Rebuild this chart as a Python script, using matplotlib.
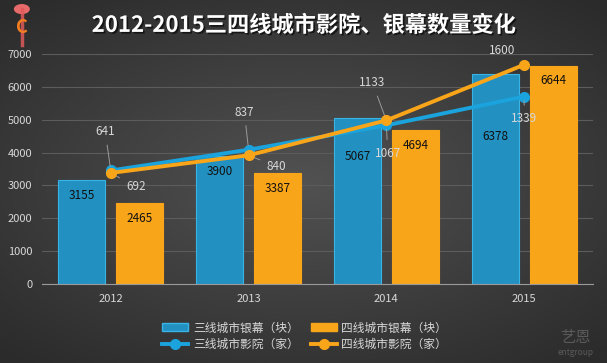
import numpy as np
import matplotlib
matplotlib.use("Agg")
from matplotlib import pyplot as plt
from matplotlib import patheffects as pe
from matplotlib.patches import Patch, Circle
from matplotlib.lines import Line2D

plt.rcParams['font.family'] = ['Noto Sans CJK SC', 'DejaVu Sans']

years = ['2012', '2013', '2014', '2015']
screens_t3 = [3155, 3900, 5067, 6378]   # 三线城市银幕（块）
screens_t4 = [2465, 3387, 4694, 6644]   # 四线城市银幕（块）
cinemas_t3 = [641, 837, 1067, 1339]     # 三线城市影院（家）
cinemas_t4 = [692, 840, 1133, 1600]     # 四线城市影院（家）

blue_bar = '#2290c0'
blue_line = '#1aa3dc'
orange = '#f9a51a'
txt = '#d8d8d8'

fig = plt.figure(figsize=(6.07, 3.63), dpi=100)

# background gradient
bg = fig.add_axes([0, 0, 1, 1])
yy, xx = np.mgrid[-1:1:200j, -1:1:300j]
r = np.sqrt((xx * 0.9) ** 2 + (yy * 1.0) ** 2)
shade = 0.32 - 0.15 * np.clip(r / 1.3, 0, 1)
bg.imshow(np.dstack([shade] * 3), extent=[0, 1, 0, 1], aspect='auto')
bg.axis('off')

ax = fig.add_axes([0.069, 0.2176, 0.908, 0.6336])
ax.patch.set_alpha(0)
x = np.arange(len(years))
w = 0.34
ax.bar(x - 0.21, screens_t3, w, color=blue_bar, edgecolor='#38b4e6', linewidth=0.8, zorder=2)
ax.bar(x + 0.21, screens_t4, w, color=orange, edgecolor=orange, linewidth=0.8, zorder=2)
# bar labels sit a bit lower where the lines cross the bar
drop3 = [-11, -11, -28, -45]
for i in range(len(years)):
    ax.annotate(str(screens_t3[i]), (x[i] - 0.21, screens_t3[i]), xytext=(0, drop3[i]),
                textcoords='offset points', ha='center', va='center', fontsize=8.5, color='#111111', zorder=5)
    ax.annotate(str(screens_t4[i]), (x[i] + 0.21, screens_t4[i]), xytext=(0, -11),
                textcoords='offset points', ha='center', va='center', fontsize=8.5, color='#111111', zorder=5)

ax.set_xlim(-0.5, 3.5)
ax.set_ylim(0, 7000)
ax.set_yticks(range(0, 7001, 1000))
ax.set_xticks(x)
ax.set_xticklabels(years)
ax.tick_params(colors=txt, labelsize=8, length=0, pad=7)
ax.grid(axis='y', color='#5c5c5c', linewidth=0.8, zorder=0)
ax.set_axisbelow(True)
for s in ['top', 'right', 'left']:
    ax.spines[s].set_visible(False)
ax.spines['bottom'].set_color('#9a9a9a')

# the two cinema lines each sit on their own hidden secondary scale
ax2 = ax.twinx()
ax2.set_ylim(-430, 1740)
ax2.axis('off')
ax3 = ax.twinx()
ax3.set_ylim(-240, 1690)
ax3.axis('off')
ax2.plot(x, cinemas_t3, color=blue_line, lw=2.8, marker='o', ms=7, zorder=3)
ax3.plot(x, cinemas_t4, color=orange, lw=2.8, marker='o', ms=7, zorder=4)

lab_kw = dict(textcoords='offset points', fontsize=8.5, color=txt, ha='center', va='center',
              arrowprops=dict(arrowstyle='-', color='#9a9a9a', lw=0.7, shrinkA=3, shrinkB=3))
offs3 = [(-4, 28), (-3, 27), (1, -20), (0, -16)]
offs4 = [(18, -10), (20, -8), (-10, 27), (-16, 10)]
for i in range(len(years)):
    ax2.annotate(str(cinemas_t3[i]), (x[i], cinemas_t3[i]), xytext=offs3[i], **lab_kw)
    ax3.annotate(str(cinemas_t4[i]), (x[i], cinemas_t4[i]), xytext=offs4[i], **lab_kw)

fig.text(0.501, 0.93, '2012-2015三四线城市影院、银幕数量变化', ha='center', va='center',
         fontsize=16, fontweight='bold', color='white',
         path_effects=[pe.withSimplePatchShadow(offset=(1.2, -1.2), shadow_rgbFace='black', alpha=0.6)])

# small logo (pin with a C)
fig.add_artist(Line2D([0.036, 0.036], [0.875, 0.975], color='#e05a5a', lw=2.5, alpha=0.85))
fig.add_artist(Circle((0.036, 0.975), 0.012, transform=fig.transFigure, color='#e86a6a'))
fig.text(0.036, 0.925, 'C', ha='center', va='center', fontsize=13, fontweight='bold', color='#f57f1f')

handles = [Patch(facecolor=blue_bar, edgecolor='#38b4e6'),
           Line2D([], [], color=blue_line, lw=2.8, marker='o', ms=7),
           Patch(facecolor=orange, edgecolor=orange),
           Line2D([], [], color=orange, lw=2.8, marker='o', ms=7)]
labels = ['三线城市银幕（块）', '三线城市影院（家）', '四线城市银幕（块）', '四线城市影院（家）']
leg = fig.legend(handles, labels, ncol=2, loc='center', bbox_to_anchor=(0.502, 0.074),
                 frameon=False, fontsize=8.5, labelcolor=txt, handlelength=2.2,
                 columnspacing=1.0, handletextpad=0.4, labelspacing=0.3)

fig.text(0.948, 0.07, '艺恩', ha='center', va='center', fontsize=11, color='#5a5a5a')
fig.text(0.948, 0.03, 'entgroup', ha='center', va='center', fontsize=6, color='#5a5a5a')

fig.savefig('out.png', dpi=100)
